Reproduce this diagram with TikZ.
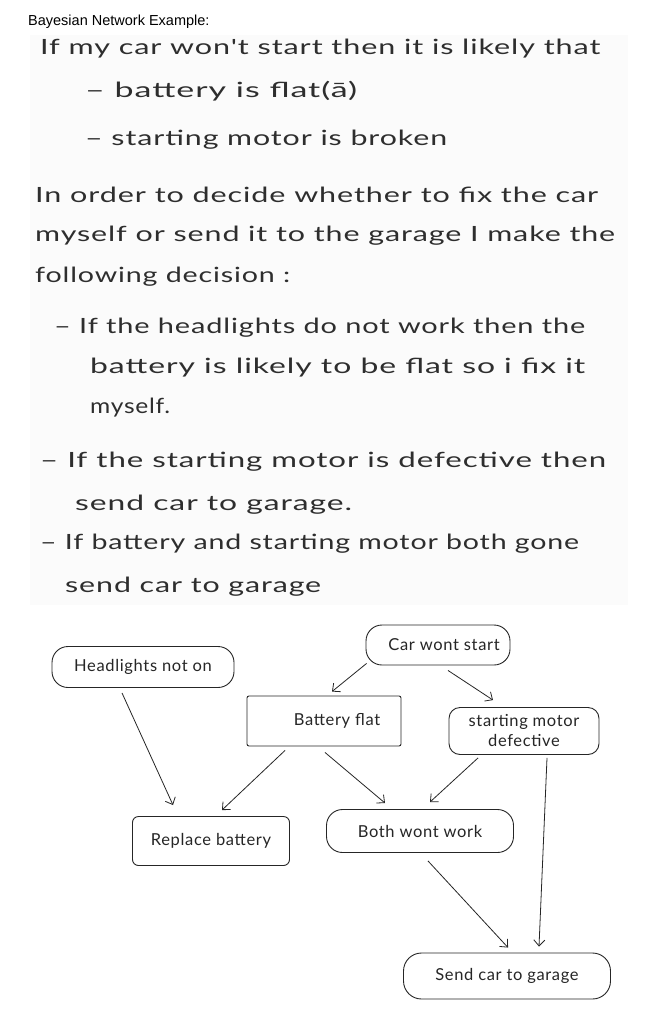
\documentclass[tikz,border=0pt]{standalone}
\usepackage{graphicx}
\usepackage{fontspec}
\setmainfont{Liberation Sans}
\newfontfamily\handfont[LetterSpace=3]{Lato}
\newfontfamily\boxfont[LetterSpace=4]{Lato}
\usetikzlibrary{arrows.meta,calc}

% a hand-written line, stretched to the width it takes on the page
\newcommand\scrawl[2]{\resizebox{#1}{\height}{\handfont #2}}

\tikzset{
  title/.style={anchor=base west, inner sep=0pt, font=\fontsize{14.5}{17}\selectfont},
  handtxt/.style={anchor=base west, inner sep=0pt, text=black!82,
                  font=\fontsize{21}{24}\selectfont},
  box/.style={draw=black!85, line width=0.9pt, text=black!85, inner sep=0pt,
              align=center, font=\boxfont\fontsize{16.5}{20}\selectfont},
  pill/.style={box, rounded corners=16pt},
  arr/.style={draw=black!85, line width=0.8pt,
              -{Straight Barb[length=6pt,width=11pt]}}
}

\begin{document}
\begin{tikzpicture}[x=1pt,y=-1pt]
\useasboundingbox (0,0) rectangle (649,1027);
\fill[white] (0,0) rectangle (649,1027);
% slightly tinted scanned page
\fill[black!1.5] (30,35) rectangle (628,605);

\node[title] (head) at (28,26) {Bayesian Network Example:};

% notes
\node[handtxt] (l1)  at (40,55)  {\scrawl{560pt}{If my car won't start then it is likely that}};
\node[handtxt] (l2)  at (85,98)  {\scrawl{272pt}{– battery is flat(ā)}};
\node[handtxt] (l3)  at (85,146) {\scrawl{362pt}{– starting motor is broken}};
\node[handtxt] (l4)  at (35,203) {\scrawl{563pt}{In order to decide whether to fix the car}};
\node[handtxt] (l5)  at (35,241) {\scrawl{580pt}{myself or send it to the garage I make the}};
\node[handtxt] (l6)  at (35,282) {\scrawl{255pt}{following decision :}};
\node[handtxt] (l7)  at (54,333) {\scrawl{531pt}{– If the headlights do not work then the}};
\node[handtxt] (l8)  at (90,373) {\scrawl{495pt}{battery is likely to be flat so i fix it}};
\node[handtxt] (l9)  at (90,413) {\scrawl{80pt}{myself.}};
\node[handtxt] (l10) at (40,467) {\scrawl{566pt}{– If the starting motor is defective then}};
\node[handtxt] (l11) at (75,510) {\scrawl{277pt}{send car to garage.}};
\node[handtxt] (l12) at (40,549) {\scrawl{539pt}{– If battery and starting motor both gone}};
\node[handtxt] (l13) at (65,592) {\scrawl{256pt}{send car to garage}};

% network
\node[pill, minimum width=182pt, minimum height=41pt] (hl) at (143,667) {Headlights not on};
\node[pill, minimum width=144pt, minimum height=40pt] (car) at (438,645) {\hspace*{12pt}Car wont start};
\node[box, rounded corners=2pt, minimum width=154pt, minimum height=50pt] (bat) at (324,721) {\hspace*{26pt}Battery flat};
\node[box, rounded corners=11pt, minimum width=150pt, minimum height=47pt] (mot) at (524,731) {starting motor\\defective};
\node[box, rounded corners=6pt, minimum width=157pt, minimum height=49pt] (rep) at (211,841) {Replace battery};
\node[pill, minimum width=187pt, minimum height=43pt] (both) at (420,831) {Both wont work};
\node[pill, rounded corners=18pt, minimum width=207pt, minimum height=46pt] (send) at (507,976) {Send car to garage};

\draw[arr] ($(car.south west)+(1,-2)$) -- ($(bat.north)+(8,-4)$);
\draw[arr] ($(car.south)+(10,5)$) -- ($(mot.north)+(-31,-7)$);
\draw[arr] ($(hl.south)+(-21,5)$) -- ($(rep.north)+(-38,-11)$);
\draw[arr] ($(bat.south)+(-39,4)$) -- ($(rep.north)+(11,-6)$);
\draw[arr] ($(bat.south)+(1,6)$) -- ($(both.north)+(-35,-6)$);
\draw[arr] ($(mot.south)+(-46,3)$) -- ($(both.north)+(10,-7)$);
\draw[arr] ($(both.south)+(8,8)$) -- ($(send.north)+(1,-5)$);
\draw[arr] ($(mot.south)+(23,3)$) -- ($(send.north)+(32,-6)$);
\end{tikzpicture}
\end{document}
